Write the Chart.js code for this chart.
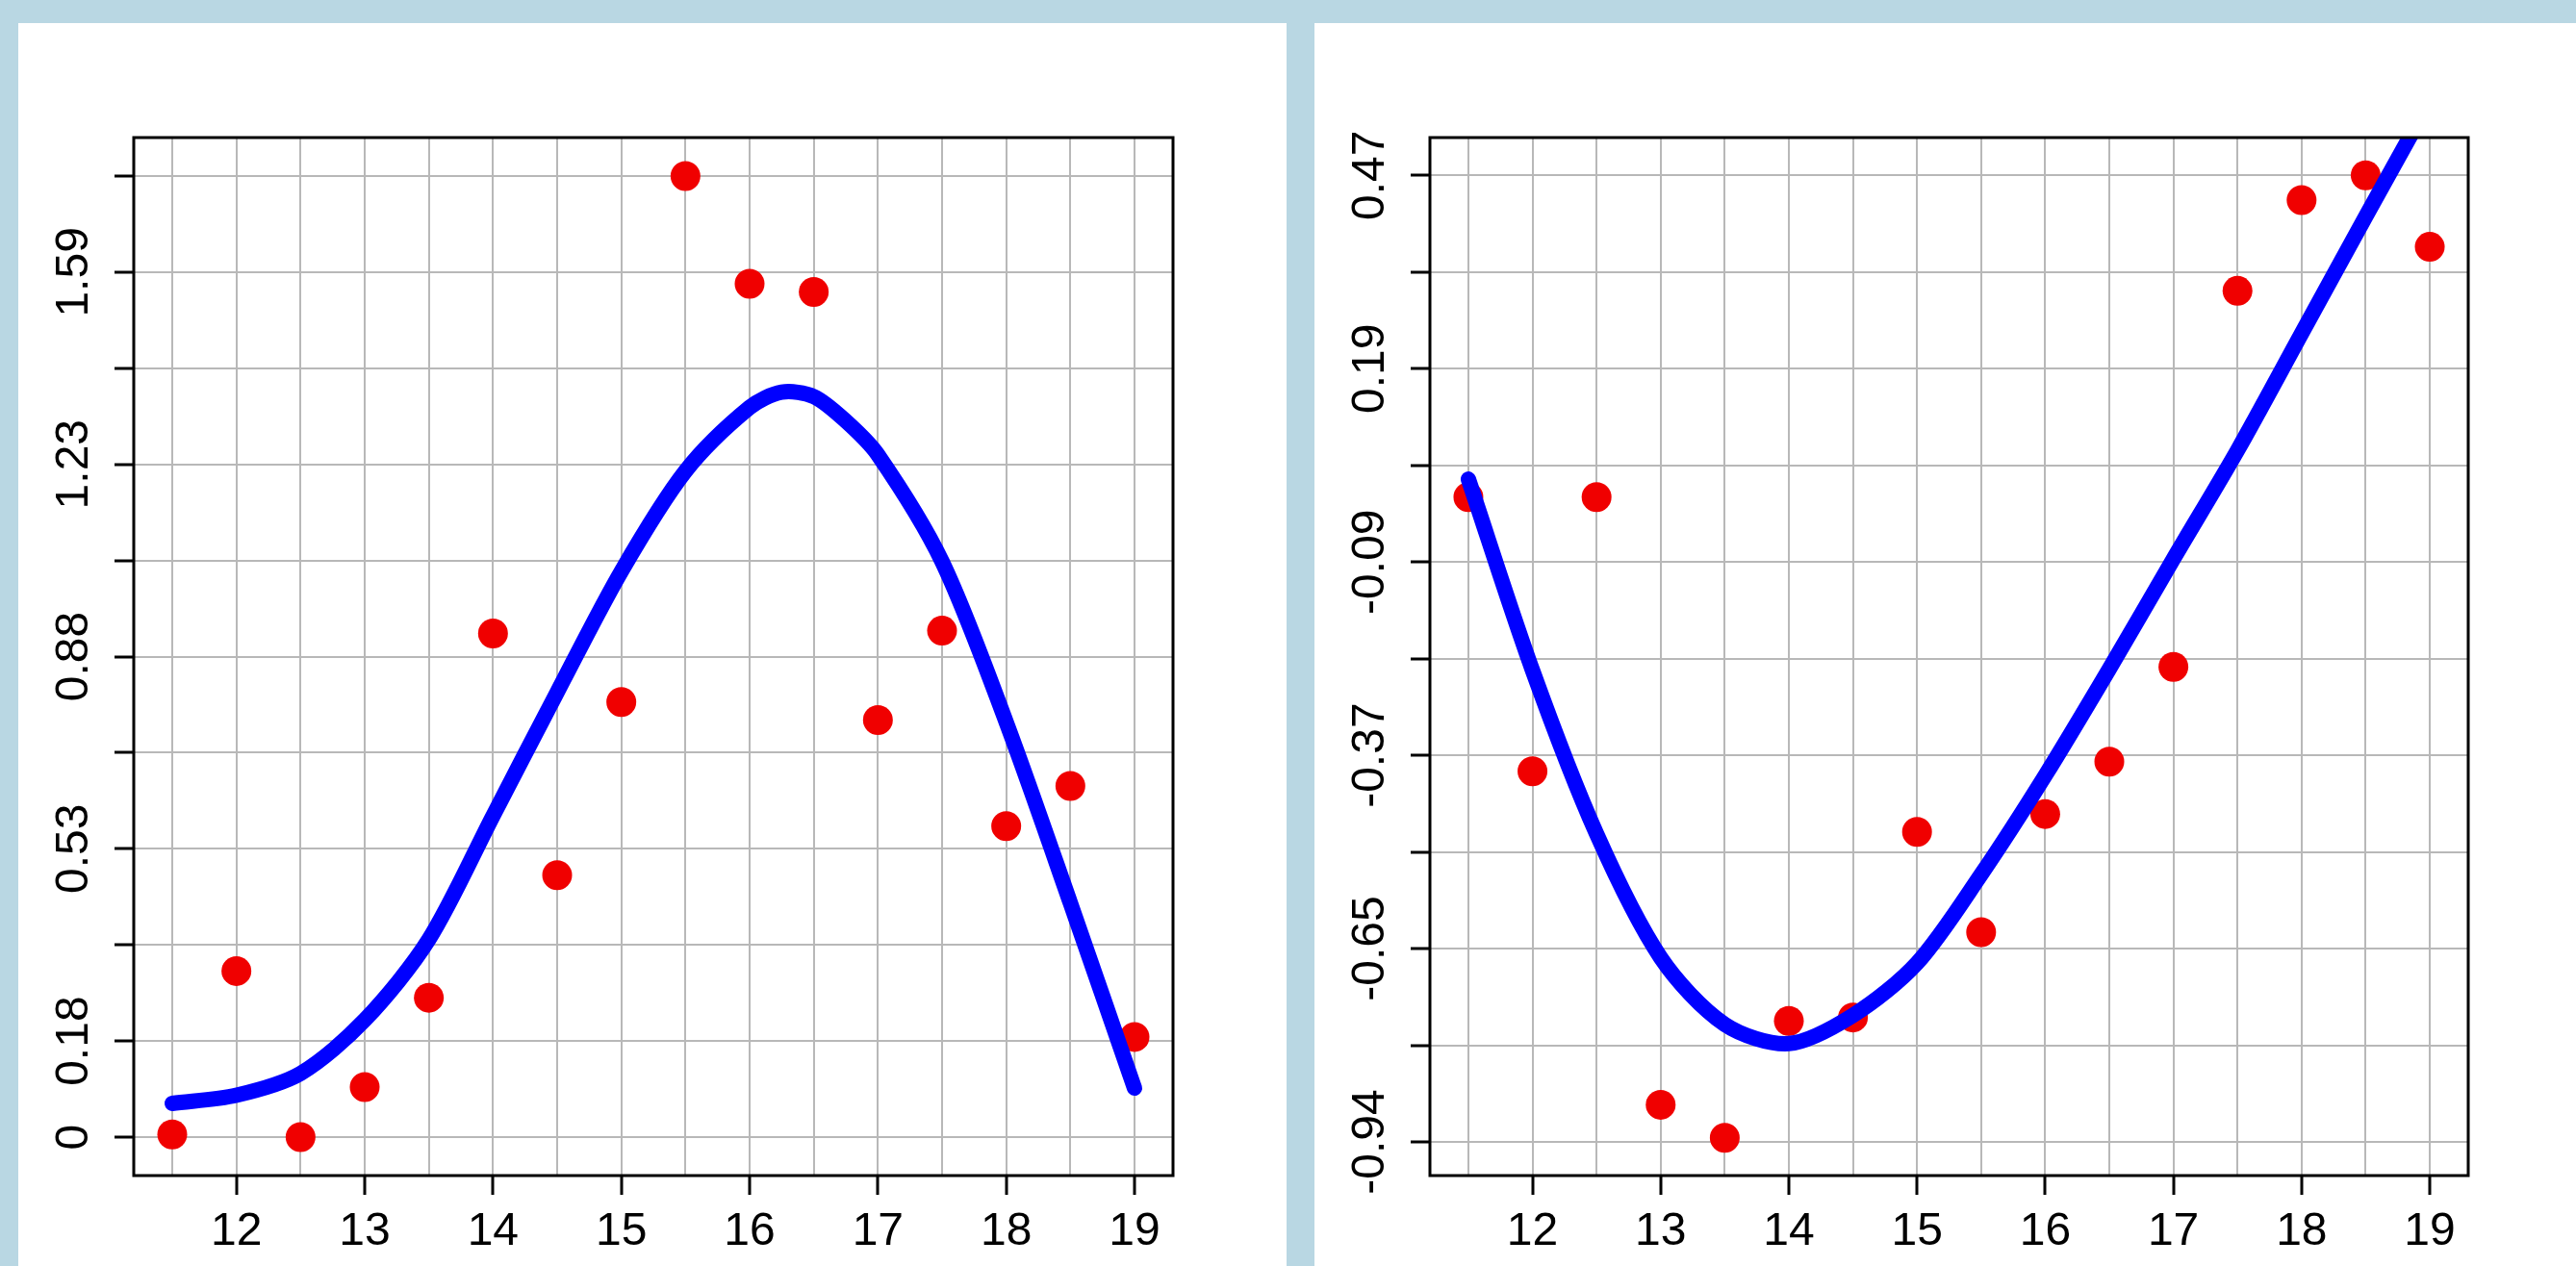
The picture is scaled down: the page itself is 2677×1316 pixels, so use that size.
<!DOCTYPE html>
<html>
<head>
<meta charset="utf-8">
<script src="https://cdn.jsdelivr.net/npm/chart.js@4.4.1/dist/chart.umd.min.js"></script>
<style>
html, body { margin: 0; padding: 0; background: #b9d7e3; width: 2677px; height: 1316px; overflow: hidden; }
.panel { position: absolute; background: #fff; }
#leftPanel { left: 19px; top: 24px; width: 1318px; height: 1292px; }
#rightPanel { left: 1366px; top: 24px; width: 1311px; height: 1292px; }
canvas { display: block; }
</style>
</head>
<body>
<div class="panel" id="leftPanel"><canvas id="leftChart" width="1318" height="1292"></canvas></div>
<div class="panel" id="rightPanel"><canvas id="rightChart" width="1311" height="1292"></canvas></div>
<script>
// x values shared by both plots
var xValues = [11.5, 12, 12.5, 13, 13.5, 14, 14.5, 15, 15.5, 16, 16.5, 17, 17.5, 18, 18.5, 19];
var xTickValues = [11.5, 12, 12.5, 13, 13.5, 14, 14.5, 15, 15.5, 16, 16.5, 17, 17.5, 18, 18.5, 19];
var xTickLabels = ['', '12', '', '13', '', '14', '', '15', '', '16', '', '17', '', '18', '', '19'];

// left plot
var leftPoints = [0.005, 0.305, 0, 0.092, 0.256, 0.925, 0.481, 0.799, 1.765, 1.567, 1.552, 0.766, 0.930, 0.571, 0.645, 0.184];
var leftCurveX = [11.5, 12, 12.5, 13, 13.5, 14, 14.5, 15, 15.5, 16, 16.25, 16.5, 16.75, 17, 17.5, 18, 18.5, 19];
var leftCurveY = [0.062, 0.077, 0.117, 0.215, 0.363, 0.590, 0.817, 1.039, 1.223, 1.340, 1.368, 1.360, 1.315, 1.253, 1.057, 0.762, 0.430, 0.090];
var leftYTicks = [0, 0.1765, 0.353, 0.5295, 0.706, 0.8825, 1.059, 1.2355, 1.412, 1.5885, 1.765];
var leftYLabels = ['0', '0.18', '', '0.53', '', '0.88', '', '1.23', '', '1.59', ''];

// right plot
var rightPoints = [0.002, -0.397, 0.002, -0.882, -0.930, -0.760, -0.755, -0.485, -0.631, -0.459, -0.383, -0.245, 0.302, 0.434, 0.470, 0.366];
var rightCurveX = [11.5, 12, 12.5, 13, 13.5, 14, 14.5, 15, 15.5, 16, 16.5, 17, 17.5, 18, 18.5, 19];
var rightCurveY = [0.028, -0.250, -0.488, -0.668, -0.765, -0.793, -0.752, -0.676, -0.547, -0.403, -0.248, -0.088, 0.070, 0.240, 0.410, 0.578];
var rightYTicks = [-0.936, -0.7954, -0.6548, -0.5142, -0.3736, -0.233, -0.0924, 0.0482, 0.1888, 0.3294, 0.47];
var rightYLabels = ['-0.94', '', '-0.65', '', '-0.37', '', '-0.09', '', '0.19', '', '0.47'];

var fontFamily = '"Liberation Sans", Arial, sans-serif';

// black frame around the plot region, like R's box()
var boxPlugin = {
    id: 'box',
    afterDraw: function (chart) {
        var a = chart.chartArea, c = chart.ctx;
        c.save();
        c.strokeStyle = '#000';
        c.lineWidth = 3;
        c.strokeRect(a.left, a.top, a.right - a.left, a.bottom - a.top);
        c.restore();
    }
};

function toXY(xs, ys) {
    var out = [];
    for (var i = 0; i < xs.length; i++) {
        out.push({x: xs[i], y: ys[i]});
    }
    return out;
}

function renderChart(id, pts, curveX, curveY, yMin, yMax, yTicks, yLabels, yPad, rightPad) {
    var elem = document.getElementById(id);
    return new Chart(elem, {
        type: 'scatter',
        data: {
            datasets: [
                {
                    type: 'line',
                    data: toXY(curveX, curveY),
                    borderColor: '#0000ff',
                    borderWidth: 16,
                    borderCapStyle: 'round',
                    borderJoinStyle: 'round',
                    tension: 0.3,
                    pointRadius: 0,
                    fill: false,
                    clip: 0,
                    order: 0
                },
                {
                    data: toXY(xValues, pts),
                    backgroundColor: '#f00000',
                    borderWidth: 0,
                    pointRadius: 15.5,
                    order: 1
                }
            ]
        },
        options: {
            responsive: false,
            animation: false,
            events: [],
            layout: {padding: {left: 0, top: 119, right: rightPad, bottom: 0}},
            plugins: {legend: {display: false}, tooltip: {enabled: false}},
            scales: {
                x: {
                    type: 'linear',
                    min: 11.2,
                    max: 19.3,
                    afterBuildTicks: function (s) {
                        s.ticks = xTickValues.map(function (v) { return {value: v}; });
                    },
                    afterFit: function (s) { s.height = 94; },
                    border: {display: false},
                    grid: {
                        color: '#b8b8b8',
                        lineWidth: 2,
                        tickLength: 20,
                        tickWidth: 3,
                        tickColor: function (ctx) {
                            return xTickLabels[ctx.index] ? '#000' : 'rgba(0,0,0,0)';
                        }
                    },
                    ticks: {
                        autoSkip: false,
                        minRotation: 0,
                        maxRotation: 0,
                        padding: 10,
                        color: '#000',
                        font: {family: fontFamily, size: 48},
                        callback: function (v, i) { return xTickLabels[i]; }
                    }
                },
                y: {
                    type: 'linear',
                    min: yMin,
                    max: yMax,
                    afterBuildTicks: function (s) {
                        s.ticks = yTicks.map(function (v) { return {value: v}; });
                    },
                    afterFit: function (s) { s.width = 120; },
                    border: {display: false},
                    grid: {
                        color: '#b8b8b8',
                        lineWidth: 2,
                        tickLength: 20,
                        tickWidth: 3,
                        tickColor: '#000'
                    },
                    ticks: {
                        autoSkip: false,
                        minRotation: 90,
                        maxRotation: 90,
                        crossAlign: 'center',
                        padding: yPad,
                        color: '#000',
                        font: {family: fontFamily, size: 48},
                        callback: function (v, i) { return yLabels[i]; }
                    }
                }
            }
        },
        plugins: [boxPlugin]
    });
}

renderChart('leftChart', leftPoints, leftCurveX, leftCurveY, -0.0706, 1.8356, leftYTicks, leftYLabels, -5.7, 118);
renderChart('rightChart', rightPoints, rightCurveX, rightCurveY, -0.985, 0.525, rightYTicks, rightYLabels, -13.7, 112);
</script>
</body>
</html>
